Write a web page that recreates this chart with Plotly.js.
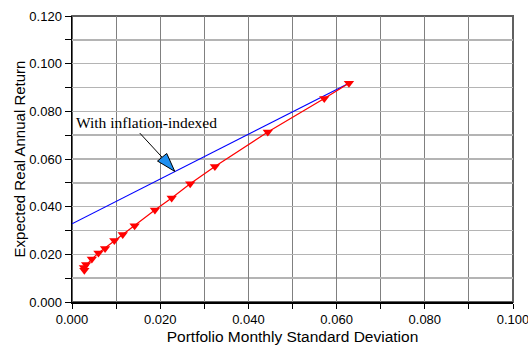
<!DOCTYPE html>
<html>
<head>
<meta charset="utf-8">
<script src="https://cdn.plot.ly/plotly-3.0.1.min.js"></script>
<style>html,body{margin:0;padding:0;background:#fff;}#chart{width:528px;height:348px;}</style>
</head>
<body>
<div id="chart"></div>
<script>
// Efficient frontier without inflation-indexed bonds (red)
const frontierSd = [0.0628, 0.0572, 0.0444, 0.0324, 0.0268, 0.0226, 0.0188, 0.0142, 0.0115, 0.0096, 0.0075, 0.0060, 0.0045, 0.0032, 0.0027, 0.0028];
const frontierRet = [0.0918, 0.0854, 0.0713, 0.0569, 0.0496, 0.0436, 0.0386, 0.0320, 0.0283, 0.0258, 0.0225, 0.0206, 0.0180, 0.0157, 0.0145, 0.0133];
// With inflation-indexed (blue line)
const indexedSd = [0.0000, 0.0628];
const indexedRet = [0.0328, 0.0918];
// Annotation
const annText = "With inflation-indexed";
const xTickVals = [0, 0.02, 0.04, 0.06, 0.08, 0.10];
const xTickText = ["0.000", "0.020", "0.040", "0.060", "0.080", "0.100"];
const yTickVals = [0, 0.02, 0.04, 0.06, 0.08, 0.10, 0.12];
const yTickText = ["0.000", "0.020", "0.040", "0.060", "0.080", "0.100", "0.120"];

const traces = [
  {x: indexedSd, y: indexedRet, type: 'scatter', mode: 'lines',
   line: {color: '#0000ff', width: 1.2}, hoverinfo: 'skip'},
  {x: frontierSd, y: frontierRet, type: 'scatter', mode: 'lines+markers',
   line: {color: '#ff0000', width: 1.2},
   marker: {symbol: 'triangle-down', size: 9, color: '#ff0000'}, hoverinfo: 'skip'}
];

const font = {family: 'Liberation Sans, Arial, sans-serif', size: 13, color: '#000'};

const layout = {
  width: 528, height: 348,
  margin: {l: 72, r: 15, t: 16, b: 46},
  paper_bgcolor: '#fff', plot_bgcolor: '#fff',
  showlegend: false,
  font: font,
  xaxis: {
    range: [0, 0.1], tickvals: xTickVals, ticktext: xTickText,
    showgrid: true, gridcolor: '#808080', gridwidth: 1,
    ticks: 'outside', ticklen: 5, tickcolor: '#000',
    showline: true, linecolor: '#000', linewidth: 1.5,
    zeroline: false, ticklabeloverflow: 'allow',
    minor: {dtick: 0.01, tick0: 0, showgrid: true, gridcolor: '#808080', gridwidth: 1, ticks: 'outside', ticklen: 5, tickcolor: '#000'},
    title: {text: 'Portfolio Monthly Standard Deviation', font: {family: 'Liberation Sans, Arial, sans-serif', size: 15.5}, standoff: 5},
    tickfont: font
  },
  yaxis: {
    range: [0, 0.12], tickvals: yTickVals, ticktext: yTickText,
    showgrid: true, gridcolor: '#b4b4b4', gridwidth: 1.5,
    ticks: 'outside', ticklen: 6, tickcolor: '#000',
    showline: true, linecolor: '#000', linewidth: 1.5,
    zeroline: false,
    minor: {dtick: 0.01, tick0: 0, showgrid: true, gridcolor: '#b4b4b4', gridwidth: 1.5, ticks: 'outside', ticklen: 6, tickcolor: '#000'},
    title: {text: 'Expected Real Annual Return', font: {family: 'Liberation Sans, Arial, sans-serif', size: 15}, standoff: 0},
    tickfont: font
  },
  shapes: [
    {type: 'rect', xref: 'paper', yref: 'paper', x0: 0, x1: 1, y0: 0, y1: 1,
     line: {color: '#606060', width: 2}, layer: 'below'},
    {type: 'line', xref: 'x', yref: 'y', x0: 0.01537, y0: 0.07087, x1: 0.02043, y1: 0.06073,
     line: {color: '#000', width: 1}},
    {type: 'path', xref: 'x', yref: 'y',
     path: 'M 0.02331 0.05479 L 0.01939 0.05914 L 0.02148 0.06232 Z',
     fillcolor: '#1e8ff0', line: {color: '#000', width: 1}}
  ],
  annotations: [
    {x: 0.0005, y: 0.0755, xref: 'x', yref: 'y', text: annText, showarrow: false,
     xanchor: 'left', yanchor: 'middle',
     font: {family: 'Liberation Serif, Times New Roman, serif', size: 15.5, color: '#000'}}
  ]
};

Plotly.newPlot('chart', traces, layout, {staticPlot: true, displayModeBar: false});
</script>
</body>
</html>
